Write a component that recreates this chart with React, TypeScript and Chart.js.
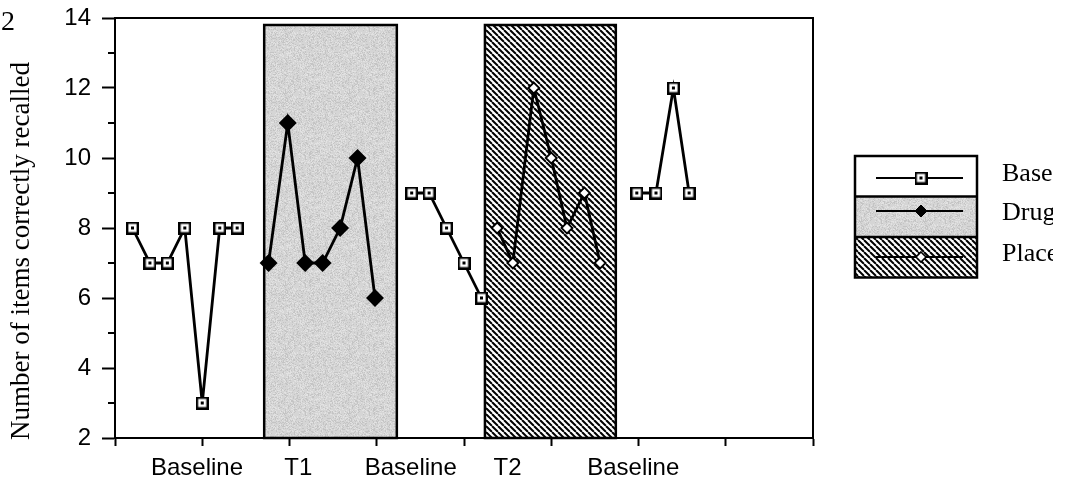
import React, { useEffect, useRef } from "react";
import { Chart, registerables } from "chart.js";

Chart.register(...registerables);

// ---------------- data ----------------
const baseline1X = [1, 2, 3, 4, 5, 6, 7];
const baseline1Y = [8, 7, 7, 8, 3, 8, 8];
const drugX = [8.8, 9.9, 10.9, 11.9, 12.9, 13.9, 14.9];
const drugY = [7, 11, 7, 7, 8, 10, 6];
const baseline2X = [17, 18, 19, 20, 21];
const baseline2Y = [9, 9, 8, 7, 6];
const placeboX = [21.9, 22.8, 24, 25, 25.9, 26.9, 27.8];
const placeboY = [8, 7, 12, 10, 8, 9, 7];
const baseline3X = [29.9, 31, 32, 32.9];
const baseline3Y = [9, 9, 12, 9];

const drugPhase = [8.55, 16.15];
const placeboPhase = [21.2, 28.7];
const phaseTop = 13.8;

const xLabelAt = [4.7, 10.5, 16.95, 22.5, 29.7];
const xLabels = ["Baseline", "T1", "Baseline", "T2", "Baseline"];
const yTickValues = [2, 4, 6, 8, 10, 12, 14];
const legendLabels = ["Baseline", "Drug", "Placebo"];
const yTitle = "Number of items correctly recalled";
const figureNumber = "2";

const SANS = "'Liberation Sans', Arial, sans-serif";
const SERIF = "'Liberation Serif', 'Times New Roman', serif";

function pts(xs: number[], ys: number[]) {
  return xs.map((x, i) => ({ x, y: ys[i] }));
}

function makeSquare(): HTMLCanvasElement {
  const c = document.createElement("canvas");
  c.width = 13;
  c.height = 13;
  const g = c.getContext("2d")!;
  g.fillStyle = "#fff";
  g.fillRect(0, 0, 13, 13);
  g.strokeStyle = "#000";
  g.lineWidth = 2.4;
  g.strokeRect(1.2, 1.2, 10.6, 10.6);
  g.fillStyle = "#000";
  g.fillRect(5, 5, 3, 3);
  return c;
}

// paper-grain texture for the "drug" shading (deterministic hash, style only)
function makeStipple(ctx: CanvasRenderingContext2D): CanvasPattern {
  const n = 64;
  const c = document.createElement("canvas");
  c.width = n;
  c.height = n;
  const g = c.getContext("2d")!;
  g.fillStyle = "#d5d5d5";
  g.fillRect(0, 0, n, n);
  for (let yy = 0; yy < n; yy++) {
    for (let xx = 0; xx < n; xx++) {
      let h = (xx * 374761393 + yy * 668265263) | 0;
      h = Math.imul(h ^ (h >>> 13), 1274126177);
      h = (h ^ (h >>> 16)) >>> 0;
      const k = h % 10;
      if (k < 2) {
        g.fillStyle = "#c4c4c4";
        g.fillRect(xx, yy, 1, 1);
      } else if (k < 4) {
        g.fillStyle = "#e2e2e2";
        g.fillRect(xx, yy, 1, 1);
      }
    }
  }
  return ctx.createPattern(c, "repeat")!;
}

function makeHatch(ctx: CanvasRenderingContext2D): CanvasPattern {
  const s = 6;
  const c = document.createElement("canvas");
  c.width = s;
  c.height = s;
  const g = c.getContext("2d")!;
  g.fillStyle = "#fff";
  g.fillRect(0, 0, s, s);
  g.strokeStyle = "#000";
  g.lineWidth = 2;
  for (const k of [-1, 0, 1]) {
    g.beginPath();
    g.moveTo(k * s, 0);
    g.lineTo(k * s + s, s);
    g.stroke();
  }
  return ctx.createPattern(c, "repeat")!;
}

function diamond(ctx: CanvasRenderingContext2D, x: number, y: number, r: number, fill: string, lw: number) {
  ctx.beginPath();
  ctx.moveTo(x, y - r);
  ctx.lineTo(x + r, y);
  ctx.lineTo(x, y + r);
  ctx.lineTo(x - r, y);
  ctx.closePath();
  ctx.fillStyle = fill;
  ctx.fill();
  ctx.lineWidth = lw;
  ctx.strokeStyle = "#000";
  ctx.stroke();
}

export default function App() {
  const ref = useRef<HTMLCanvasElement | null>(null);

  useEffect(() => {
    const canvas = ref.current!;
    const ctx0 = canvas.getContext("2d")!;
    const square = makeSquare();
    const stipple = makeStipple(ctx0);
    const hatch = makeHatch(ctx0);

    const majorX: number[] = [];
    for (let v = 0; v <= 40; v += 5) majorX.push(v);
    const isMajor = (v: number) => majorX.some((m) => Math.abs(m - v) < 1e-6);
    const labelFor = (v: number) => {
      const i = xLabelAt.findIndex((p) => Math.abs(p - v) < 1e-6);
      return i >= 0 ? xLabels[i] : "";
    };

    const decor = {
      id: "decor",
      beforeDatasetsDraw(chart: any) {
        const { ctx, scales } = chart;
        const x = scales.x;
        const y = scales.y;
        const top = y.getPixelForValue(phaseTop);
        const bottom = y.getPixelForValue(2);
        const region = (range: number[], fill: any) => {
          const l = x.getPixelForValue(range[0]);
          const r = x.getPixelForValue(range[1]);
          ctx.save();
          ctx.fillStyle = fill;
          ctx.fillRect(l, top, r - l, bottom - top);
          ctx.strokeStyle = "#000";
          ctx.lineWidth = 2.5;
          ctx.strokeRect(l, top, r - l, bottom - top);
          ctx.restore();
        };
        region(drugPhase, stipple);
        region(placeboPhase, hatch);
      },
      afterDraw(chart: any) {
        const { ctx, chartArea, scales } = chart;
        const y = scales.y;
        ctx.save();
        // frame top + right
        ctx.strokeStyle = "#000";
        ctx.lineWidth = 2;
        ctx.beginPath();
        ctx.moveTo(chartArea.left, chartArea.top);
        ctx.lineTo(chartArea.right, chartArea.top);
        ctx.lineTo(chartArea.right, chartArea.bottom);
        ctx.stroke();
        // minor y ticks
        for (let v = 3; v <= 13; v += 2) {
          const py = y.getPixelForValue(v);
          ctx.beginPath();
          ctx.moveTo(chartArea.left - 7, py);
          ctx.lineTo(chartArea.left, py);
          ctx.stroke();
        }
        // y title
        ctx.save();
        ctx.translate(22, 251);
        ctx.rotate(-Math.PI / 2);
        ctx.font = `27px ${SERIF}`;
        ctx.fillStyle = "#000";
        ctx.textAlign = "center";
        ctx.textBaseline = "middle";
        ctx.fillText(yTitle, 0, 0);
        ctx.restore();
        // figure number
        ctx.font = `28px ${SERIF}`;
        ctx.fillStyle = "#000";
        ctx.textAlign = "left";
        ctx.textBaseline = "alphabetic";
        ctx.fillText(figureNumber, 1, 30);

        // legend
        const lx = 855;
        const lw = 122;
        const ly = 156;
        const rh = 40.5;
        const fills = ["#fff", stipple, hatch];
        fills.forEach((f, i) => {
          ctx.fillStyle = f;
          ctx.fillRect(lx, ly + i * rh, lw, rh);
        });
        ctx.lineWidth = 2.5;
        ctx.strokeStyle = "#000";
        ctx.strokeRect(lx, ly, lw, rh * 3);
        ctx.beginPath();
        ctx.moveTo(lx, ly + rh);
        ctx.lineTo(lx + lw, ly + rh);
        ctx.moveTo(lx, ly + 2 * rh);
        ctx.lineTo(lx + lw, ly + 2 * rh);
        ctx.stroke();
        const lineY = [178, 211, 257];
        ctx.lineWidth = 2.2;
        lineY.forEach((ly2) => {
          ctx.beginPath();
          ctx.moveTo(876, ly2);
          ctx.lineTo(963, ly2);
          ctx.stroke();
        });
        ctx.drawImage(square, 921 - 6.5, lineY[0] - 6.5);
        diamond(ctx, 921, lineY[1], 6, "#000", 1);
        diamond(ctx, 921, lineY[2], 5, "#fff", 1.6);

        // legend labels (clipped like the scan)
        ctx.save();
        ctx.beginPath();
        ctx.rect(0, 0, 1053, 485);
        ctx.clip();
        ctx.font = `26px ${SERIF}`;
        ctx.fillStyle = "#000";
        ctx.textAlign = "left";
        ctx.textBaseline = "alphabetic";
        const textY = [181, 220, 261];
        legendLabels.forEach((t, i) => ctx.fillText(t, 1002, textY[i]));
        ctx.restore();
        ctx.restore();
      },
    };

    const lineStyle = {
      borderColor: "#000",
      borderWidth: 2.8,
      tension: 0,
      showLine: true,
    };

    const chart = new Chart(canvas, {
      type: "line",
      data: {
        datasets: [
          { ...lineStyle, label: "Baseline", data: pts(baseline1X, baseline1Y), pointStyle: square as any },
          { ...lineStyle, label: "Drug", data: pts(drugX, drugY), pointStyle: "rectRot", pointRadius: 7, backgroundColor: "#000", pointBorderColor: "#000" },
          { ...lineStyle, label: "Baseline", data: pts(baseline2X, baseline2Y), pointStyle: square as any },
          { ...lineStyle, label: "Placebo", data: pts(placeboX, placeboY), pointStyle: "rectRot", pointRadius: 5.5, pointBackgroundColor: "#fff", pointBorderColor: "#000", pointBorderWidth: 1.8 },
          { ...lineStyle, label: "Baseline", data: pts(baseline3X, baseline3Y), pointStyle: square as any },
        ] as any,
      },
      options: {
        responsive: false,
        animation: false,
        events: [],
        layout: { padding: { top: 18, right: 253, left: 0, bottom: 0 } },
        plugins: {
          legend: { display: false },
          tooltip: { enabled: false },
          title: { display: false },
        },
        scales: {
          x: {
            type: "linear",
            min: 0,
            max: 40,
            afterBuildTicks: (scale: any) => {
              const vals = [...majorX, ...xLabelAt].sort((a, b) => a - b);
              scale.ticks = vals.map((v) => ({ value: v }));
            },
            afterFit: (scale: any) => {
              scale.height = 47;
              scale.paddingLeft = 0;
              scale.paddingRight = 0;
            },
            ticks: {
              autoSkip: false,
              maxRotation: 0,
              minRotation: 0,
              padding: 8,
              color: "#000",
              font: { family: SANS, size: 24 },
              callback: (v: any) => labelFor(Number(v)),
            },
            grid: {
              display: true,
              drawOnChartArea: false,
              drawTicks: true,
              tickLength: 8,
              tickWidth: 2,
              tickColor: (c: any) => (c.tick && isMajor(c.tick.value) ? "#000" : "rgba(0,0,0,0)"),
            },
            border: { display: true, color: "#000", width: 2 },
          },
          y: {
            type: "linear",
            min: 2,
            max: 14,
            afterBuildTicks: (scale: any) => {
              scale.ticks = yTickValues.map((v) => ({ value: v }));
            },
            afterFit: (scale: any) => {
              scale.width = 115;
              scale.paddingTop = 0;
              scale.paddingBottom = 0;
            },
            ticks: {
              padding: 11,
              color: "#000",
              font: { family: SANS, size: 24 },
            },
            grid: {
              display: true,
              drawOnChartArea: false,
              drawTicks: true,
              tickLength: 13,
              tickWidth: 2,
              tickColor: "#000",
            },
            border: { display: true, color: "#000", width: 2 },
          },
        },
      } as any,
      plugins: [decor],
    });

    return () => chart.destroy();
  }, []);

  return (
    <div style={{ position: "fixed", left: 0, top: 0, width: 1066, height: 485, background: "#fff" }}>
      <canvas ref={ref} width={1066} height={485} style={{ display: "block", width: 1066, height: 485 }} />
    </div>
  );
}
